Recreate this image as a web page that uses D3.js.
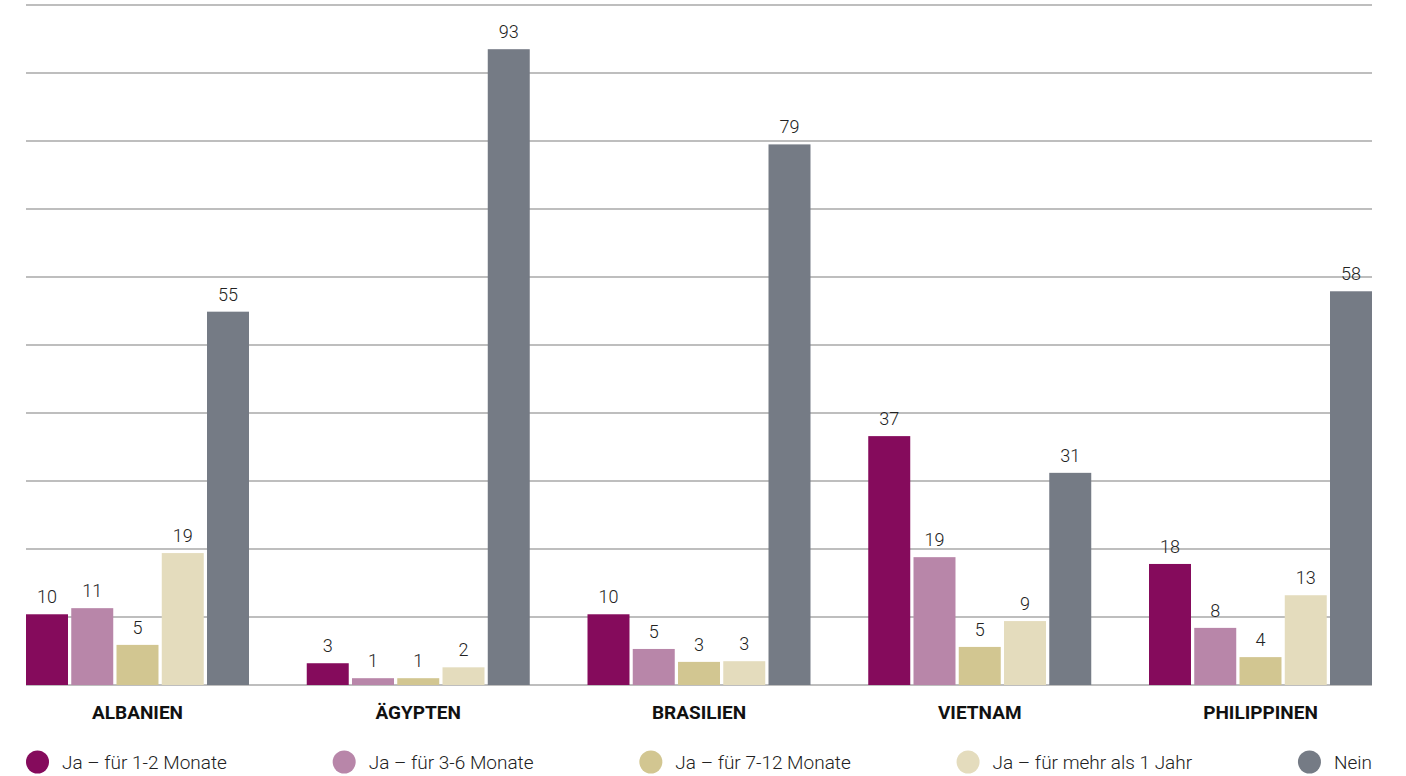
<!DOCTYPE html>
<html>
<head>
<meta charset="utf-8">
<script src="https://cdn.jsdelivr.net/npm/d3@7"></script>
<style>
  html, body { margin: 0; padding: 0; background: #fff; }
  svg { display: block; }
  .val { font-family: Roboto, "Open Sans", sans-serif; font-weight: 300; font-size: 18px; fill: #222; }
  .cat { font-family: Roboto, sans-serif; font-weight: 700; font-size: 19px; fill: #111; }
  .leg { font-family: Roboto, "Open Sans", sans-serif; font-weight: 300; font-size: 19px; fill: #222; }
</style>
</head>
<body>
<svg id="chart" width="1406" height="776"></svg>
<script>
// ---- data ----
const categories = ["ALBANIEN", "ÄGYPTEN", "BRASILIEN", "VIETNAM", "PHILIPPINEN"];
const seriesNames = ["Ja – für 1-2 Monate", "Ja – für 3-6 Monate", "Ja – für 7-12 Monate", "Ja – für mehr als 1 Jahr", "Nein"];
const seriesColors = ["#850b5c", "#b886a9", "#d2c691", "#e4dcbd", "#757b85"];

const ja1to2 = [10.4, 3.2, 10.4, 36.6, 17.8];
const ja3to6 = [11.3, 1.0, 5.3, 18.8, 8.4];
const ja7to12 = [5.9, 1.0, 3.4, 5.6, 4.1];
const jaMehr = [19.4, 2.6, 3.5, 9.4, 13.2];
const nein = [54.9, 93.5, 79.5, 31.2, 57.9];

const ja1to2Labels = [10, 3, 10, 37, 18];
const ja3to6Labels = [11, 1, 5, 19, 8];
const ja7to12Labels = [5, 1, 3, 5, 4];
const jaMehrLabels = [19, 2, 3, 9, 13];
const neinLabels = [55, 93, 79, 31, 58];

const yTicks = [0, 10, 20, 30, 40, 50, 60, 70, 80, 90, 100];

const seriesValues = [ja1to2, ja3to6, ja7to12, jaMehr, nein];
const seriesLabels = [ja1to2Labels, ja3to6Labels, ja7to12Labels, jaMehrLabels, neinLabels];

// ---- layout ----
const svg = d3.select("#chart");
const plotLeft = 26, plotRight = 1372, plotTop = 5, plotBottom = 685;

const x0 = d3.scaleBand().domain(categories).range([plotLeft, plotRight]).paddingInner(0.2057).paddingOuter(0);
const x1 = d3.scaleBand().domain(d3.range(seriesNames.length)).range([0, x0.bandwidth()]).paddingInner(0.072).paddingOuter(0);
const y = d3.scaleLinear().domain([0, 100]).range([plotBottom, plotTop]);

// gridlines
svg.append("g").selectAll("line").data(yTicks).join("line")
  .attr("x1", plotLeft).attr("x2", plotRight)
  .attr("y1", d => y(d)).attr("y2", d => y(d))
  .attr("stroke", "#a8a8a8").attr("stroke-width", 1.5);

// bars
const rows = [];
categories.forEach((c, ci) => {
  seriesValues.forEach((vals, si) => {
    rows.push({ cat: c, s: si, v: vals[ci], label: seriesLabels[si][ci] });
  });
});

svg.append("g").selectAll("rect").data(rows).join("rect")
  .attr("x", d => x0(d.cat) + x1(d.s))
  .attr("width", x1.bandwidth())
  .attr("y", d => y(d.v))
  .attr("height", d => y(0) - y(d.v))
  .attr("fill", d => seriesColors[d.s]);

svg.append("g").selectAll("text").data(rows).join("text")
  .attr("class", "val")
  .attr("x", d => x0(d.cat) + x1(d.s) + x1.bandwidth() / 2)
  .attr("y", d => y(d.v) - 11)
  .attr("text-anchor", "middle")
  .text(d => d.label);

// category labels
svg.append("g").selectAll("text").data(categories).join("text")
  .attr("class", "cat")
  .attr("x", d => x0(d) + x0.bandwidth() / 2)
  .attr("y", 719)
  .attr("text-anchor", "middle")
  .text(d => d);

// legend, justified across plot width
const r = 11.5, gapCT = 13;
const legG = svg.append("g");
const items = seriesNames.map((name, i) => {
  const g = legG.append("g");
  g.append("circle").attr("cx", r).attr("cy", 762).attr("r", r).attr("fill", seriesColors[i]);
  const t = g.append("text").attr("class", "leg").attr("x", 2 * r + gapCT).attr("y", 769).text(name);
  const w = 2 * r + gapCT + t.node().getComputedTextLength();
  return { g, w };
});
const totalW = d3.sum(items, d => d.w);
const gap = (plotRight - plotLeft - totalW) / (items.length - 1);
let cx = plotLeft;
items.forEach(it => {
  it.g.attr("transform", `translate(${cx},0)`);
  cx += it.w + gap;
});
</script>
</body>
</html>
